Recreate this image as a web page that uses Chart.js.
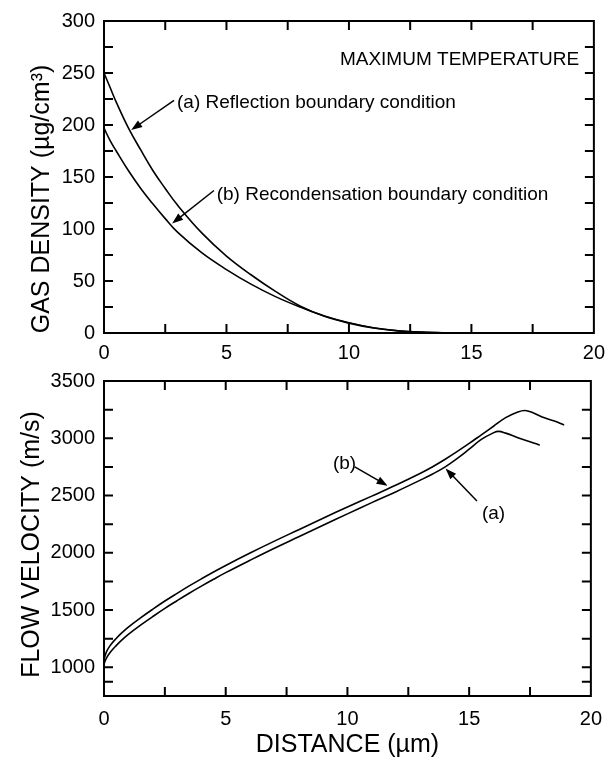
<!DOCTYPE html>
<html>
<head>
<meta charset="utf-8">
<script src="https://cdn.jsdelivr.net/npm/chart.js@4.4.1/dist/chart.umd.min.js"></script>
<style>
  html, body { margin: 0; padding: 0; background: #fff; }
  canvas { display: block; }
</style>
</head>
<body>
<canvas id="densityChart" width="613" height="360"></canvas>
<canvas id="velocityChart" width="613" height="409"></canvas>
<script>
// axis tick labels
let distanceTicks = [0, 5, 10, 15, 20];
let densityTicks = [0, 50, 100, 150, 200, 250, 300];
let velocityTicks = [1000, 1500, 2000, 2500, 3000, 3500];

// top panel: gas density (ug/cm3) against distance (um)
let densityX = [0, 0.25, 0.5, 1, 1.5, 2, 2.5, 3, 4, 5, 6, 7, 8, 9, 10, 11, 12, 13, 14, 15];
let densityReflection = [250, 236, 222, 197, 176, 156, 139, 123, 96, 74, 56, 40, 26, 16, 9.5, 4.8, 2, 0.7, 0.2, 0];
let densityRecondensation = [197, 185, 175, 156, 139, 124, 110, 97, 77, 61, 47, 35, 25, 16.3, 9.8, 5, 2.2, 0.8, 0.2, 0];

// bottom panel: flow velocity (m/s) against distance (um)
let velocityXReflection = [0, 0.1, 0.25, 0.5, 0.75, 1, 1.5, 2, 2.5, 3, 3.5, 4, 4.5, 5, 6, 7, 8, 9, 10, 11, 12, 13, 13.5, 14, 14.5, 15, 15.5, 16, 16.2, 16.5, 17, 17.5, 17.9];
let velocityReflection = [1030, 1080, 1130, 1190, 1242, 1288, 1368, 1443, 1515, 1582, 1647, 1709, 1769, 1827, 1935, 2040, 2140, 2240, 2340, 2438, 2534, 2635, 2688, 2748, 2822, 2905, 2990, 3048, 3060, 3045, 3005, 2970, 2940];
let velocityXRecondensation = [0, 0.1, 0.25, 0.5, 0.75, 1, 1.5, 2, 2.5, 3, 3.5, 4, 4.5, 5, 6, 7, 8, 9, 10, 11, 12, 13, 13.5, 14, 14.5, 15, 15.5, 16, 16.5, 17, 17.3, 17.6, 18, 18.5, 18.9];
let velocityRecondensation = [1068, 1135, 1190, 1252, 1305, 1352, 1432, 1507, 1579, 1646, 1711, 1773, 1833, 1890, 1998, 2102, 2202, 2302, 2400, 2495, 2592, 2695, 2752, 2815, 2883, 2955, 3030, 3105, 3180, 3230, 3243, 3225, 3185, 3150, 3115];

const FONT = "'Liberation Sans', Arial, Helvetica, sans-serif";

function points(xs, ys) {
    return xs.map((x, i) => ({ x: x, y: ys[i] }));
}

// major ticks plus the half-way minor ticks
function withMinor(ticks) {
    let out = [];
    ticks.forEach((t, i) => {
        out.push(t);
        if (i < ticks.length - 1) out.push((t + ticks[i + 1]) / 2);
    });
    return out;
}

function drawArrow(ctx, x1, y1, x2, y2) {
    let ang = Math.atan2(y2 - y1, x2 - x1);
    let head = 11, half = 4;
    ctx.beginPath();
    ctx.moveTo(x1, y1);
    ctx.lineTo(x2 - Math.cos(ang) * head * 0.8, y2 - Math.sin(ang) * head * 0.8);
    ctx.stroke();
    ctx.beginPath();
    ctx.moveTo(x2, y2);
    ctx.lineTo(x2 - Math.cos(ang) * head - Math.sin(ang) * half, y2 - Math.sin(ang) * head + Math.cos(ang) * half);
    ctx.lineTo(x2 - Math.cos(ang) * head + Math.sin(ang) * half, y2 - Math.sin(ang) * head - Math.cos(ang) * half);
    ctx.closePath();
    ctx.fill();
}

// frame with inward ticks on all sides, y title and the notes
const framePlugin = {
    id: 'frame',
    afterDraw(chart, args, o) {
        const ctx = chart.ctx;
        const a = chart.chartArea;
        const xs = chart.scales.x, ys = chart.scales.y;
        ctx.save();
        ctx.strokeStyle = '#000';
        ctx.fillStyle = '#000';
        ctx.lineWidth = 2;
        ctx.strokeRect(a.left, a.top, a.right - a.left, a.bottom - a.top);

        let len = 9;
        ctx.beginPath();
        withMinor(o.xTicks).forEach(v => {
            if (v <= xs.min || v >= xs.max) return;
            let px = xs.getPixelForValue(v);
            ctx.moveTo(px, a.bottom); ctx.lineTo(px, a.bottom - len);
            ctx.moveTo(px, a.top); ctx.lineTo(px, a.top + len);
        });
        withMinor(o.yTicks).forEach(v => {
            if (v <= ys.min || v >= ys.max) return;
            let py = ys.getPixelForValue(v);
            ctx.moveTo(a.left, py); ctx.lineTo(a.left + len, py);
            ctx.moveTo(a.right, py); ctx.lineTo(a.right - len, py);
        });
        ctx.stroke();

        // y axis title, rotated
        ctx.save();
        ctx.font = '25px ' + FONT;
        ctx.translate(o.yTitleX, (a.top + a.bottom) / 2 + o.yTitleShift);
        ctx.rotate(-Math.PI / 2);
        ctx.textAlign = 'center';
        ctx.textBaseline = 'alphabetic';
        ctx.fillText(o.yTitle, 0, 0);
        ctx.restore();

        ctx.font = '19px ' + FONT;
        ctx.textBaseline = 'middle';
        o.notes.forEach(n => {
            ctx.textAlign = n.align || 'left';
            ctx.fillText(n.text, xs.getPixelForValue(n.x), ys.getPixelForValue(n.y));
        });
        ctx.lineWidth = 1.5;
        o.arrows.forEach(r => {
            drawArrow(ctx,
                xs.getPixelForValue(r.from[0]), ys.getPixelForValue(r.from[1]),
                xs.getPixelForValue(r.to[0]), ys.getPixelForValue(r.to[1]));
        });
        ctx.restore();
    }
};

function lineSet(data) {
    return {
        data: data,
        showLine: true,
        borderColor: '#000',
        borderWidth: 1.6,
        pointRadius: 0,
        tension: 0.4,
        fill: false
    };
}

function axisX(height, labelPad, title) {
    return {
        type: 'linear', min: 0, max: 20,
        afterBuildTicks: s => { s.ticks = distanceTicks.map(v => ({ value: v })); },
        afterFit: s => { s.height = height; },
        grid: { display: false, drawTicks: false },
        border: { display: false },
        ticks: { color: '#000', font: { family: FONT, size: 20 }, padding: labelPad, maxRotation: 0, callback: v => String(v) },
        title: title ? {
            display: true, text: title, color: '#000',
            font: { family: FONT, size: 25 }, padding: { top: 0, bottom: 9 }
        } : { display: false }
    };
}

function axisY(min, max, ticks) {
    return {
        type: 'linear', min: min, max: max,
        afterBuildTicks: s => { s.ticks = ticks.map(v => ({ value: v })); },
        afterFit: s => { s.width = 104; },
        grid: { display: false, drawTicks: false },
        border: { display: false },
        ticks: { color: '#000', font: { family: FONT, size: 20 }, padding: 9, callback: v => String(v) }
    };
}

new Chart(document.getElementById('densityChart'), {
    type: 'scatter',
    data: {
        datasets: [
            lineSet(points(densityX, densityReflection)),
            lineSet(points(densityX, densityRecondensation))
        ]
    },
    options: {
        responsive: false,
        animation: false,
        layout: { padding: { top: 16, right: 13, left: 0, bottom: 0 } },
        plugins: {
            legend: { display: false },
            tooltip: { enabled: false },
            frame: {
                xTicks: distanceTicks,
                yTicks: densityTicks,
                yTitle: 'GAS DENSITY (\u00b5g/cm\u00b3)',
                yTitleX: 49,
                yTitleShift: 22,
                notes: [
                    { text: 'MAXIMUM TEMPERATURE', x: 19.4, y: 263, align: 'right' },
                    { text: '(a) Reflection boundary condition', x: 2.98, y: 221 },
                    { text: '(b) Recondensation boundary condition', x: 4.6, y: 132.5 }
                ],
                arrows: [
                    { from: [2.86, 223.6], to: [1.11, 195.2] },
                    { from: [4.49, 137], to: [2.78, 105.3] }
                ]
            }
        },
        scales: {
            x: axisX(27, 8, null),
            y: axisY(0, 300, densityTicks)
        }
    },
    plugins: [framePlugin]
});

new Chart(document.getElementById('velocityChart'), {
    type: 'scatter',
    data: {
        datasets: [
            lineSet(points(velocityXReflection, velocityReflection)),
            lineSet(points(velocityXRecondensation, velocityRecondensation))
        ]
    },
    options: {
        responsive: false,
        animation: false,
        layout: { padding: { top: 19, right: 13, left: 0, bottom: 0 } },
        plugins: {
            legend: { display: false },
            tooltip: { enabled: false },
            frame: {
                xTicks: distanceTicks,
                yTicks: [750].concat(velocityTicks),
                yTitle: 'FLOW VELOCITY (m/s)',
                yTitleX: 39,
                yTitleShift: 6,
                notes: [
                    { text: '(b)', x: 9.88, y: 2780, align: 'center' },
                    { text: '(a)', x: 16.0, y: 2345, align: 'center' }
                ],
                arrows: [
                    { from: [10.3, 2751], to: [11.65, 2586] },
                    { from: [15.32, 2453], to: [14.03, 2736] }
                ]
            }
        },
        scales: {
            x: axisX(73, 11, 'DISTANCE (\u00b5m)'),
            y: axisY(750, 3500, velocityTicks)
        }
    },
    plugins: [framePlugin]
});
</script>
</body>
</html>
